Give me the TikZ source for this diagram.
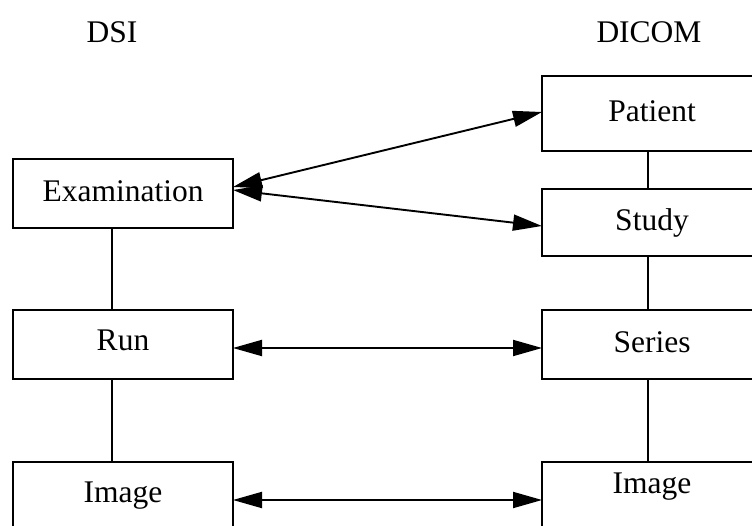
\documentclass[tikz,border=0pt]{standalone}
\usepackage{fontspec}
\setmainfont{Liberation Serif}
\usetikzlibrary{positioning,arrows.meta}

\begin{document}
\begin{tikzpicture}[x=1pt, y=1pt,
  entity/.style={draw, line width=1.9pt, minimum width=220pt, minimum height=69pt,
    inner sep=0pt, outer sep=0pt, font=\fontsize{31.5}{36}\selectfont, text height=22pt, text depth=6pt},
  head/.style={font=\fontsize{31.5}{36}\selectfont},
  link/.style={line width=1.9pt},
  map/.style={line width=1.9pt, {Triangle[length=29pt,width=16pt]}-{Triangle[length=29pt,width=16pt]}}]
\useasboundingbox (0,0) rectangle (752,-526);

\node (dsi) [head] at (112,-32) {DSI};
\node (dicom) [head] at (649,-32) {DICOM};

\node (exam) [entity] at (123,-193.5) {Examination};
\node (run) [entity, below=82pt of exam, text depth=10pt] {Run};
\node (dsiimg) [entity, below=83pt of run, text depth=10pt] {Image};

\node (series) [entity, right=309pt of run] {Series};
\node (study) [entity, above=54pt of series, minimum height=67pt] {Study};
\node (patient) [entity, above=38pt of study, minimum height=75pt] {Patient};
\node (dcmimg) [entity, below=83pt of series, text depth=28pt] {Image};

\draw[link] ([xshift=-11pt]exam.south) -- ([xshift=-11pt]run.north);
\draw[link] ([xshift=-11pt]run.south) -- ([xshift=-11pt]dsiimg.north);
\draw[link] ([xshift=-4pt]patient.south) -- ([xshift=-4pt]study.north);
\draw[link] ([xshift=-4pt]study.south) -- ([xshift=-4pt]series.north);
\draw[link] ([xshift=-4pt]series.south) -- ([xshift=-4pt]dcmimg.north);

\draw[map] ([yshift=6.5pt]exam.east) -- ([yshift=1.5pt]patient.west);
\draw[map] ([yshift=3.5pt]exam.east) -- ([yshift=-3.5pt]study.west);
\draw[map] ([yshift=-3.5pt]run.east) -- ([yshift=-3.5pt]series.west);
\draw[map] ([yshift=-3.5pt]dsiimg.east) -- ([yshift=-3.5pt]dcmimg.west);

\end{tikzpicture}
\end{document}
